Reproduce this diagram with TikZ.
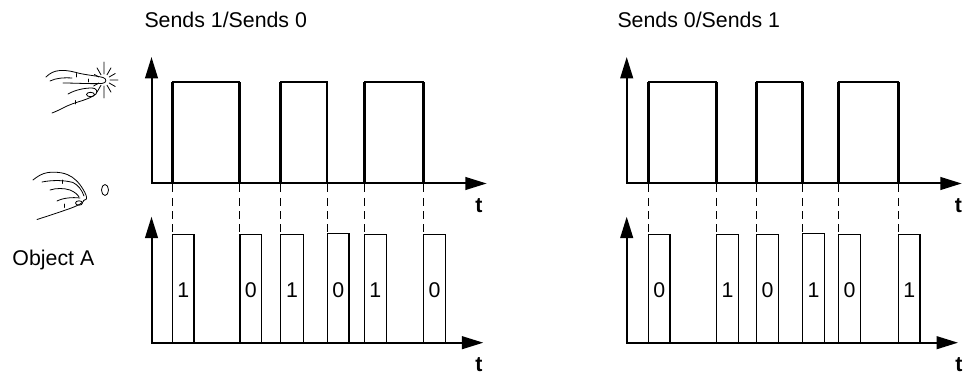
\documentclass[tikz,border=0pt]{standalone}
\usepackage{fontspec}
\setmainfont{Liberation Sans}
\usetikzlibrary{arrows.meta}

\tikzset{every picture/.style={line width=0.75pt}}
\tikzset{
  timeaxis/.style={line width=1.5pt, line join=miter, {Triangle[length=16pt,width=9.5pt]}-{Triangle[length=16pt,width=9.5pt]}},
  pulse/.style={line width=1pt},
  rise/.style={line width=2pt},
  bitbox/.style={line width=0.8pt},
  guide/.style={line width=0.8pt, dash pattern=on 6pt off 4pt},
  hand/.style={line width=0.6pt, line cap=round, line join=round},
  txt/.style={inner sep=0pt, font=\fontsize{16}{19}\selectfont},
  tlabel/.style={inner sep=0pt, font=\fontsize{16}{19}\selectfont\bfseries}
}

\begin{document}
\begin{tikzpicture}[x=0.75pt,y=0.75pt,yscale=-1,xscale=1]
\useasboundingbox (0,0) rectangle (968,374);

%Hand pressing [id:hand1]
\draw[hand] (46,77) .. controls (50,73) and (54,71) .. (60,70.5) .. controls (68,70) and (74,72) .. (80,73.5) .. controls (90,75.5) and (98,76) .. (103,77.5) .. controls (107,78.5) and (107,83) .. (102,83.5) .. controls (90,84) and (75,83) .. (63,83) ;
\draw[hand] (50,81) .. controls (56,78) and (64,77.5) .. (72,78) ;
\draw[hand] (68,94) .. controls (75,90) and (84,88) .. (92,88) .. controls (96,88) and (98,91) .. (96,94) ;
\draw[hand] (52,113) .. controls (60,110) and (66,106) .. (72,104) .. controls (80,101) and (90,99) .. (96,94) ;
\draw[hand] (90.5,94.5) ellipse [x radius=4, y radius=2.2] ;
\draw[hand] (76,73.5) -- (76,77) (88,79) -- (88,82) (75,100.5) -- (75,104) ;
%Spark
\draw[hand] (104,80) ++(0:6) -- ++(0:8) (104,80) ++(30:6) -- ++(30:7) (104,80) ++(60:6) -- ++(60:8) (104,80) ++(90:6) -- ++(90:12) (104,80) ++(120:6) -- ++(120:8) (104,80) ++(150:6) -- ++(150:6) (104,80) ++(210:6) -- ++(210:5) (104,80) ++(240:6) -- ++(240:8) (104,80) ++(270:6) -- ++(270:12) (104,80) ++(300:6) -- ++(300:8) (104,80) ++(330:6) -- ++(330:7) ;

%Hand resting [id:hand2]
\draw[hand] (33,180) .. controls (38,176) and (42,173.5) .. (48,172.5) .. controls (58,171.5) and (66,173) .. (72,177) .. controls (78,181) and (83,188) .. (86,195) .. controls (87.5,198.5) and (86,201) .. (83.5,200.5) ;
\draw[hand] (42,182) .. controls (52,180) and (64,180) .. (73,182.5) .. controls (78,185) and (82,190) .. (84,196) ;
\draw[hand] (50,190) .. controls (56,188) and (64,188) .. (70,190) .. controls (75,192) and (78,195) .. (79,197) ;
\draw[hand] (57,201) .. controls (63,198) and (72,197) .. (80,198) ;
\draw[hand] (79,203) ellipse [x radius=3.5, y radius=2.2] ;
\draw[hand] (37,219.5) .. controls (48,216) and (60,212) .. (70,208.5) .. controls (78,205.5) and (83,203) .. (84,200.5) ;
\draw[hand] (62,180) -- (62,183.5) (64,204) -- (64,207.5) ;
%Off light
\draw[hand] (105,190) ellipse [x radius=3.5, y radius=5.5] ;

% Text Node
\node[txt, anchor=base west] (titleL) at (144,27.3) {Sends 1/Sends 0};
% Text Node
\node[txt, anchor=base west] (titleR) at (617,27.3) {Sends 0/Sends 1};
% Text Node
\node[txt, anchor=base west] (objA) at (12,266) {Object A};

%Left: button signal
\draw[timeaxis] (151.5,57) -- (151.5,183.5) -- (486.7,183.5) ;
\draw[pulse] (172.3,183.5) |- (239.3,82) -- (239.3,183.5) ;
\draw[pulse] (280.7,183.5) |- (327,82) -- (327,183.5) ;
\draw[pulse] (364.3,183.5) |- (423.7,82) -- (423.7,183.5) ;
\draw[rise] (172.3,183.5) -- (172.3,82) (239.3,183.5) -- (239.3,82) (280.7,183.5) -- (280.7,82) (327,183.5) -- (327,82) (364.3,183.5) -- (364.3,82) (423.7,183.5) -- (423.7,82) ;
\draw[guide] (172.3,184.5) -- (172.3,234.3) (239.8,184.5) -- (239.8,234.3) (280.7,184.5) -- (280.7,234.3) (327.2,184.5) -- (327.2,234.3) (364.3,184.5) -- (364.3,234.3) (423.7,184.5) -- (423.7,234.3) ;
% Text Node
\node[tlabel, anchor=base] (tTopL) at (478.8,212.3) {t};

%Left: object A telegrams
\draw[timeaxis] (151.5,216.7) -- (151.5,342.7) -- (483.3,342.7) ;
\draw[bitbox] (172.3,342.7) rectangle (194,234.3) ;
\draw[bitbox] (240,342.7) rectangle (261.7,234.3) ;
\draw[bitbox] (280.7,342.7) rectangle (303.3,234.3) ;
\draw[bitbox] (327.3,342.7) rectangle (349,233.7) ;
\draw[bitbox] (364.3,342.7) rectangle (386.3,234.3) ;
\draw[bitbox] (423.7,342.7) rectangle (445.3,234.3) ;
\node[txt, anchor=base] (bitL1) at (183.2,297.3) {1};
\node[txt, anchor=base] (bitL2) at (250.8,297.3) {0};
\node[txt, anchor=base] (bitL3) at (292,297.3) {1};
\node[txt, anchor=base] (bitL4) at (338.2,297.3) {0};
\node[txt, anchor=base] (bitL5) at (375.3,297.3) {1};
\node[txt, anchor=base] (bitL6) at (434.5,297.3) {0};
% Text Node
\node[tlabel, anchor=base] (tBotL) at (479,371.5) {t};

%Right: button signal
\draw[timeaxis] (626.7,57) -- (626.7,183.5) -- (961.7,183.5) ;
\draw[pulse] (648.3,183.5) |- (716.7,82) -- (716.7,183.5) ;
\draw[pulse] (756.7,183.5) |- (802.7,82) -- (802.7,183.5) ;
\draw[pulse] (838.7,183.5) |- (898.3,82) -- (898.3,183.5) ;
\draw[rise] (648.3,183.5) -- (648.3,82) (716.7,183.5) -- (716.7,82) (756.7,183.5) -- (756.7,82) (802.7,183.5) -- (802.7,82) (838.7,183.5) -- (838.7,82) (898.3,183.5) -- (898.3,82) ;
\draw[guide] (648.3,184.5) -- (648.3,234.3) (716.7,184.5) -- (716.7,234.3) (756.7,184.5) -- (756.7,234.3) (802.7,184.5) -- (802.7,234.3) (838.7,184.5) -- (838.7,234.3) (898.3,184.5) -- (898.3,234.3) ;
% Text Node
\node[tlabel, anchor=base] (tTopR) at (958.5,212.3) {t};

%Right: object A telegrams
\draw[timeaxis] (626.7,216.7) -- (626.7,342.7) -- (958,342.7) ;
\draw[bitbox] (648.3,342.7) rectangle (670,234.3) ;
\draw[bitbox] (716.7,342.7) rectangle (738.3,234.3) ;
\draw[bitbox] (756.7,342.7) rectangle (778.3,234.3) ;
\draw[bitbox] (802.7,342.7) rectangle (824.3,233.7) ;
\draw[bitbox] (838.7,342.7) rectangle (860.3,234.3) ;
\draw[bitbox] (898.3,342.7) rectangle (920,234.3) ;
\node[txt, anchor=base] (bitR1) at (659.2,297.3) {0};
\node[txt, anchor=base] (bitR2) at (727.5,297.3) {1};
\node[txt, anchor=base] (bitR3) at (767.5,297.3) {0};
\node[txt, anchor=base] (bitR4) at (813.5,297.3) {1};
\node[txt, anchor=base] (bitR5) at (849.5,297.3) {0};
\node[txt, anchor=base] (bitR6) at (909.2,297.3) {1};
% Text Node
\node[tlabel, anchor=base] (tBotR) at (959,371.5) {t};

\end{tikzpicture}
\end{document}
